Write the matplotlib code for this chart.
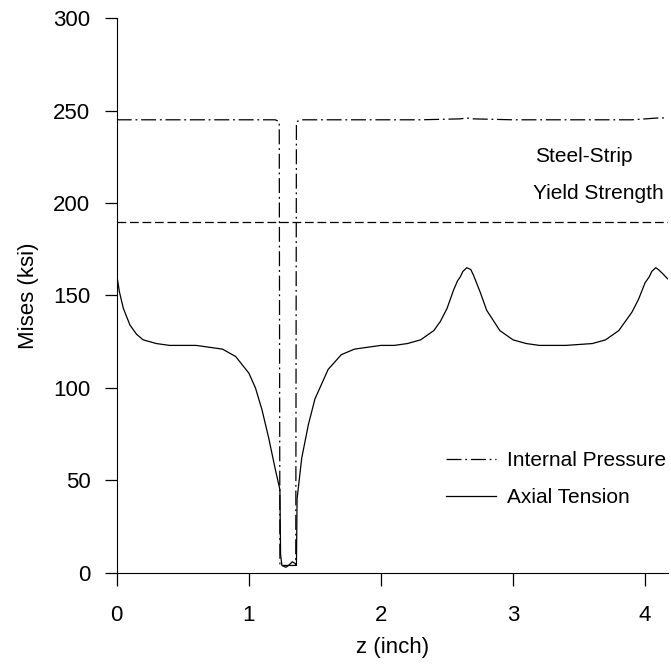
import matplotlib
matplotlib.use("Agg")
import matplotlib.pyplot as plt

plt.rcParams['font.family'] = ['Liberation Sans', 'DejaVu Sans']

# axial tension curve (z in inch, Mises in ksi)
axial_z = [0.0, 0.02, 0.05, 0.1, 0.15, 0.2, 0.3, 0.4, 0.5, 0.6, 0.7, 0.8, 0.9,
           1.0, 1.05, 1.1, 1.15, 1.2, 1.235, 1.24, 1.25, 1.28, 1.3, 1.33, 1.35,
           1.36, 1.365, 1.4, 1.45, 1.5, 1.6, 1.7, 1.8, 1.9, 2.0, 2.1, 2.2, 2.3,
           2.4, 2.45, 2.5, 2.55, 2.58, 2.6, 2.62, 2.65, 2.68, 2.7, 2.75, 2.8,
           2.9, 3.0, 3.1, 3.2, 3.4, 3.6, 3.7, 3.8, 3.9, 3.95, 4.0, 4.03, 4.05,
           4.08, 4.1, 4.13, 4.17]
axial_s = [161, 152, 143, 134, 129, 126, 124, 123, 123, 123, 122, 121, 117,
           108, 100, 88, 73, 56, 45, 10, 4, 3, 4, 6, 5,
           4, 40, 62, 80, 94, 110, 118, 121, 122, 123, 123, 124, 126,
           131, 136, 143, 153, 158, 160, 163, 165, 164, 161, 152, 142,
           131, 126, 124, 123, 123, 124, 126, 131, 141, 148, 157, 160, 163,
           165, 164, 162, 159]

# internal pressure curve
press_z = [0.0, 0.3, 0.6, 0.9, 1.1, 1.2, 1.23, 1.235, 1.3, 1.355, 1.36, 1.4,
           1.7, 2.0, 2.3, 2.6, 2.65, 2.7, 3.0, 3.5, 3.9, 4.1, 4.17]
press_s = [245, 245, 245, 245, 245, 245, 244, 4, 4, 4, 244, 245,
           245, 245, 245, 245.5, 246, 245.5, 245, 245, 245, 246, 246]

yield_strength = 190
xlim = (0, 4.17)
ylim = (0, 300)

fig = plt.figure(figsize=(6.71, 6.70), dpi=100)
ax = fig.add_axes([0.174, 0.145, 0.821, 0.828])

ax.plot(press_z, press_s, color='black', lw=0.9, linestyle=(0, (12, 3, 1.5, 3)),
        label='Internal Pressure')
ax.plot(axial_z, axial_s, color='black', lw=0.9, label='Axial Tension')
ax.axhline(yield_strength, color='black', lw=0.9, linestyle=(0, (7, 3)))

ax.text(3.17, 225, 'Steel-Strip', fontsize=15, va='center', ha='left')
ax.text(3.15, 205, 'Yield Strength', fontsize=15, va='center', ha='left')

ax.set_xlim(*xlim)
ax.set_ylim(*ylim)
ax.set_xticks([0, 1, 2, 3, 4])
ax.set_yticks([0, 50, 100, 150, 200, 250, 300])
ax.spines['top'].set_visible(False)
ax.spines['right'].set_visible(False)
ax.tick_params(axis='both', direction='out', length=9, width=0.9, labelsize=16)
ax.tick_params(axis='x', pad=14)
ax.tick_params(axis='y', pad=10)
ax.set_xlabel('z (inch)', fontsize=16, labelpad=8)
ax.set_ylabel('Mises (ksi)', fontsize=16, labelpad=10)

ax.legend(loc='center left', bbox_to_anchor=(0.597, 0.169), frameon=False,
          fontsize=15, handlelength=2.4, handletextpad=0.55, labelspacing=0.85,
          borderpad=0, borderaxespad=0)

fig.savefig('out.png', dpi=100)
